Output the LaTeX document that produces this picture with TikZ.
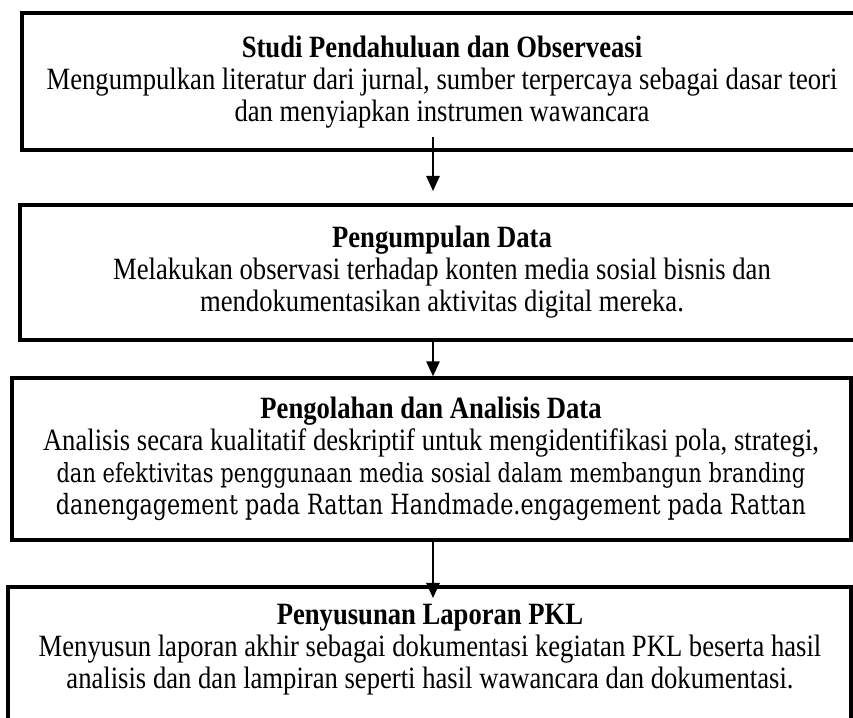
\documentclass[tikz,border=0pt]{standalone}
\usepackage{fontspec}
\setmainfont{Liberation Serif}[FakeStretch=0.86]
\newfontfamily\slabserif{DejaVu Serif}[FakeStretch=0.8]
\usetikzlibrary{arrows.meta}
\def\pxu{0.452pt}
\begin{document}
\begin{tikzpicture}[x=0.452pt,y=-0.452pt,
  stepbox/.style={draw=black,line width=1.5pt,rectangle,inner sep=0pt},
  steptext/.style={align=center,inner sep=0pt,font=\fontsize{14}{14.5}\selectfont},
  flow/.style={line width=0.9pt,-{Triangle[length=6.8pt,width=6pt]}}]
\useasboundingbox (0,0) rectangle (853,717);
\fill[white] (0,0) rectangle (853,717);
\clip (0,0) rectangle (853,717);
% boxes
\node[stepbox,minimum width={840*\pxu},minimum height={137*\pxu}] (b1) at (442,81.5) {};
\node[stepbox,minimum width={842*\pxu},minimum height={135*\pxu}] (b2) at (441,272.5) {};
\node[stepbox,minimum width={839*\pxu},minimum height={162*\pxu}] (b3) at (431.5,459) {};
\node[stepbox,minimum width={843*\pxu},minimum height={173*\pxu}] (b4) at (429.5,673.5) {};
% texts
\node[steptext] (t1) at (442,82) {\textbf{Studi Pendahuluan dan Observeasi}\\
Mengumpulkan literatur dari jurnal, sumber terpercaya sebagai dasar teori\\
dan menyiapkan instrumen wawancara};
\node[steptext] (t2) at (442,272) {\textbf{Pengumpulan Data}\\
Melakukan observasi terhadap konten media sosial bisnis dan\\
mendokumentasikan aktivitas digital mereka.};
\node[steptext] (t3) at (431,459) {\textbf{Pengolahan dan Analisis Data}\\
Analisis secara kualitatif deskriptif untuk mengidentifikasi pola, strategi,\\
\resizebox{338.5pt}{!}{\slabserif dan efektivitas penggunaan media sosial dalam membangun branding}\\
\resizebox{339pt}{!}{\slabserif danengagement pada Rattan Handmade.engagement pada Rattan}};
\node[steptext] (t4) at (430,650) {\textbf{Penyusunan Laporan PKL}\\
Menyusun laporan akhir sebagai dokumentasi kegiatan PKL beserta hasil\\
analisis dan dan lampiran seperti hasil wawancara dan dokumentasi.};
% arrows
\coordinate (a1s) at (433,137);
\coordinate (a1e) at (433,191);
\coordinate (a3e) at (433,598);
\draw[flow] (a1s) -- (a1e);
\draw[flow] (b2.south -| a1s) -- (b3.north -| a1s);
\draw[flow] (b3.south -| a1s) -- (a3e);
\end{tikzpicture}
\end{document}
